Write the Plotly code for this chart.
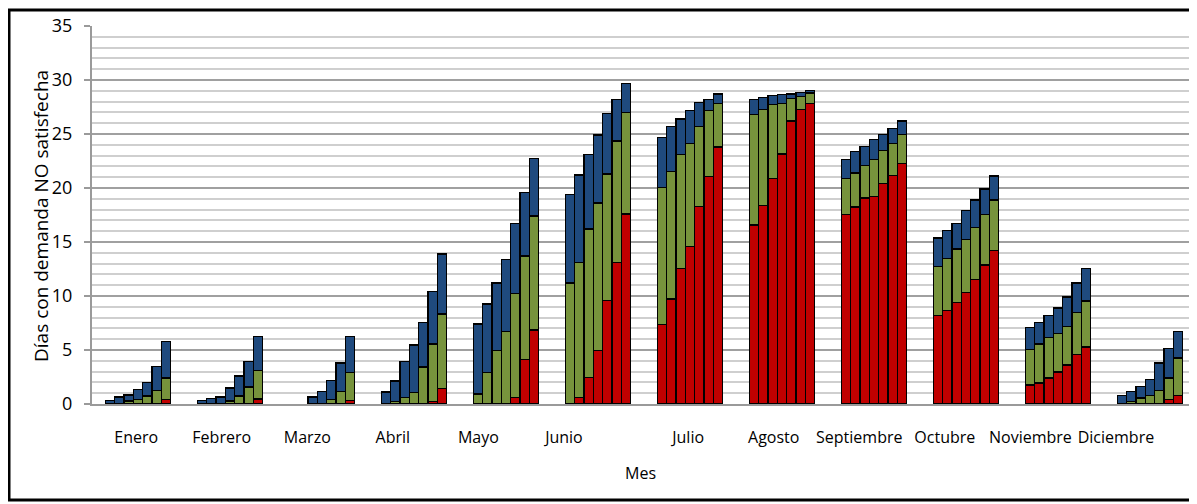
import plotly.graph_objects as go

meses = ["Enero", "Febrero", "Marzo", "Abril", "Mayo", "Junio", "Julio",
         "Agosto", "Septiembre", "Octubre", "Noviembre", "Diciembre"]

# Cumulative levels (7 bars per month)
rojo_tope = [
    [0, 0, 0, 0, 0, 0, 0.43],
    [0, 0, 0, 0, 0, 0, 0.46],
    [0, 0, 0, 0, 0, 0, 0.30],
    [0, 0, 0, 0, 0, 0.22, 1.45],
    [0, 0, 0, 0, 0.62, 4.14, 6.85],
    [0, 0.62, 2.47, 4.94, 9.57, 13.1, 17.6],
    [7.35, 9.72, 12.56, 14.57, 18.27, 21.05, 23.8],
    [16.57, 18.4, 20.9, 23.15, 26.2, 27.3, 27.8],
    [17.56, 18.24, 19.07, 19.23, 20.4, 21.17, 22.3],
    [8.18, 8.67, 9.38, 10.34, 11.54, 12.87, 14.2],
    [1.76, 1.94, 2.4, 2.96, 3.6, 4.6, 5.28],
    [0, 0, 0, 0, 0, 0.43, 0.77],
]
verde_tope = [
    [0, 0, 0.28, 0.40, 0.74, 1.23, 2.4],
    [0, 0, 0, 0.28, 0.74, 1.57, 3.09],
    [0, 0, 0, 0, 0.40, 1.14, 2.93],
    [0, 0.25, 0.59, 1.08, 3.43, 5.56, 8.33],
    [0.93, 2.9, 4.94, 6.7, 10.2, 13.7, 17.4],
    [11.2, 13.1, 16.2, 18.6, 21.3, 24.35, 27.0],
    [20.06, 21.5, 23.1, 24.1, 25.7, 27.2, 27.8],
    [26.8, 27.3, 27.7, 27.8, 28.3, 28.45, 28.8],
    [20.86, 21.4, 22.1, 22.65, 23.46, 24.1, 24.94],
    [12.7, 13.5, 14.35, 15.25, 16.36, 17.56, 18.9],
    [5.06, 5.56, 6.17, 6.54, 7.19, 8.5, 9.54],
    [0, 0.25, 0.56, 0.8, 1.27, 2.4, 4.26],
]
total = [
    [0.3, 0.65, 0.83, 1.33, 1.98, 3.46, 5.77],
    [0.3, 0.5, 0.65, 1.48, 2.6, 3.95, 6.23],
    [0, 0, 0.65, 1.14, 2.16, 3.8, 6.23],
    [1.11, 2.13, 3.92, 5.46, 7.56, 10.4, 13.9],
    [7.4, 9.26, 11.2, 13.4, 16.7, 19.6, 22.7],
    [19.4, 21.2, 23.1, 24.9, 26.9, 28.2, 29.7],
    [24.7, 25.7, 26.4, 27.2, 27.9, 28.2, 28.7],
    [28.2, 28.36, 28.55, 28.67, 28.7, 28.86, 29.0],
    [22.65, 23.4, 23.86, 24.5, 24.97, 25.5, 26.2],
    [15.37, 16.05, 16.7, 17.9, 18.9, 19.9, 21.1],
    [7.07, 7.56, 8.2, 8.9, 9.9, 11.2, 12.56],
    [0.8, 1.14, 1.64, 2.3, 3.8, 5.12, 6.73],
]

N_BARRAS = 7
ANCHO = 0.102

xs, seg_r, seg_g, seg_b = [], [], [], []
for i in range(len(meses)):
    for j in range(N_BARRAS):
        xs.append(i + (j - (N_BARRAS - 1) / 2) * ANCHO)
        r, g, t = rojo_tope[i][j], verde_tope[i][j], total[i][j]
        nz = lambda v: v if v > 1e-9 else None
        seg_r.append(nz(r))
        seg_g.append(nz(g - r))
        seg_b.append(nz(t - g))

line = dict(color="black", width=1.3)
fig = go.Figure()
for vals, col in [(seg_r, "#c00000"), (seg_g, "#77933c"), (seg_b, "#1f4a7e")]:
    fig.add_trace(go.Bar(x=xs, y=vals, width=ANCHO, marker=dict(color=col, line=line),
                         showlegend=False))

# label positions (as laid out in the original figure)
tick_pos = [6 * h + 0.93 * k - 0.02 for h in range(2) for k in range(6)]

FONT = "Open Sans"
OFF = 8  # page body margin
W, H = 1197 - OFF, 504 - OFF
L, R, T = 92 - OFF, 1, 26 - OFF
B = H - (404 - OFF)
pw, ph = W - L - R, H - T - B
bottom = H - B  # pixel y of axis baseline within figure

def px_x(x):
    return (x - OFF - L) / pw

def px_y(y):
    return (bottom - (y - OFF)) / ph

fig.update_layout(
    width=W, height=H, barmode="stack",
    margin=dict(l=L, r=R, t=T, b=B, autoexpand=False),
    paper_bgcolor="white", plot_bgcolor="white",
    font=dict(family=FONT, color="black"),
    xaxis=dict(range=[-0.5, 11.5], tickvals=tick_pos, ticktext=meses,
               showgrid=False, zeroline=False, showline=True, linecolor="#9a9a9a",
               linewidth=2, ticks="", tickfont=dict(size=16, family=FONT, color="black"),
               ticklabelstandoff=18, automargin=False),
    yaxis=dict(range=[0, 35], dtick=5, showgrid=True, gridcolor="#a0a0a0", gridwidth=2,
               minor=dict(dtick=1, showgrid=True, gridcolor="#cfcfcf", gridwidth=1.5),
               zeroline=False, showline=True, linecolor="#9a9a9a", linewidth=2,
               ticks="outside", ticklen=6, tickcolor="#9a9a9a", tickwidth=2,
               tickfont=dict(size=18, family=FONT, color="black"), ticklabelstandoff=8,
               automargin=False),
    annotations=[
        dict(text="Días con demanda NO satisfecha", textangle=-90, showarrow=False,
             xref="paper", yref="paper", x=px_x(41), y=px_y(216),
             xanchor="center", yanchor="middle", font=dict(size=19, family=FONT)),
        dict(text="Mes", showarrow=False, xref="paper", yref="paper",
             x=px_x(640), y=px_y(473), xanchor="center", yanchor="middle",
             font=dict(size=16, family=FONT)),
    ],
    shapes=[dict(type="rect", xref="paper", yref="paper",
                 x0=px_x(9), x1=px_x(1215), y0=px_y(500), y1=px_y(10),
                 line=dict(color="black", width=3))],
)

fig.write_html("out.html")
